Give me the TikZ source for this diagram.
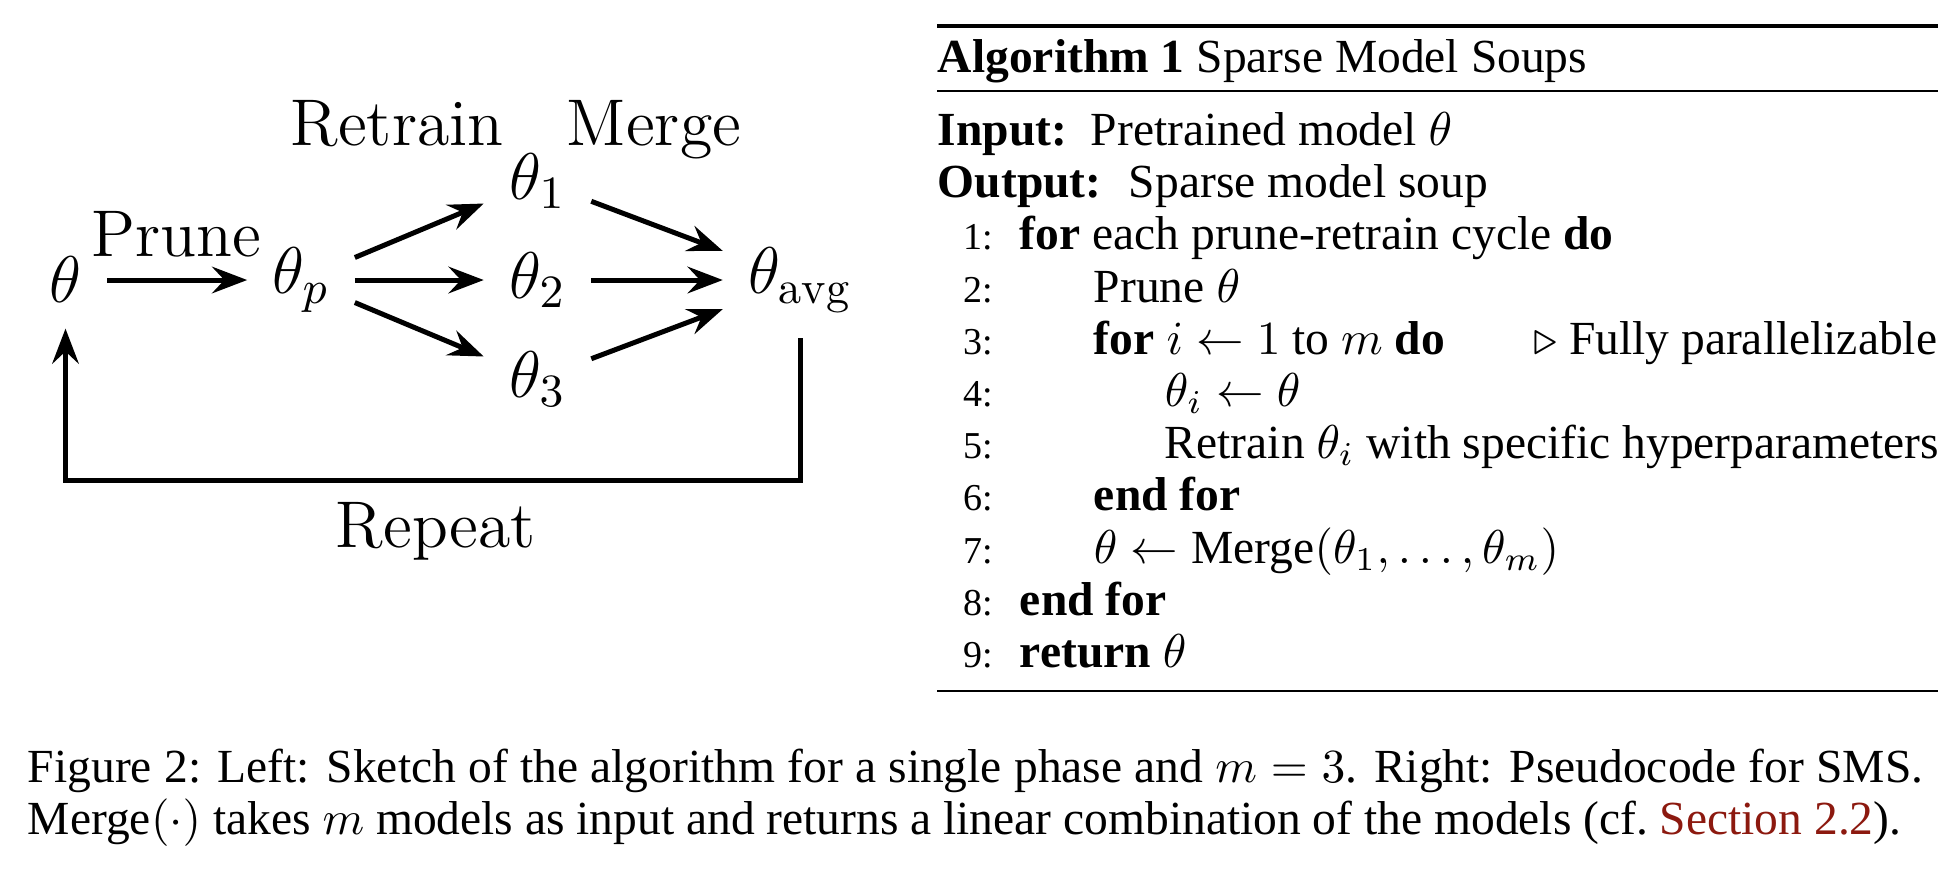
\RequirePackage{fix-cm}
\documentclass[tikz,border=0pt]{standalone}
\usepackage{fontspec}
\usetikzlibrary{arrows.meta}
\newfontfamily\algfont{Liberation Serif}
\definecolor{linkred}{RGB}{140,25,15}

\begin{document}
\begin{tikzpicture}[x=0.2105pt, y=-0.2105pt,
    var/.style={inner sep=5.4pt, outer sep=0pt, font=\fontsize{13.9}{16}\selectfont},
    lbl/.style={inner sep=0pt, anchor=base, font=\fontsize{13.9}{16}\selectfont},
    alg/.style={inner sep=0pt, anchor=base west, font=\algfont\fontsize{10}{11}\selectfont},
    lno/.style={inner sep=0pt, anchor=base east, font=\algfont\fontsize{8}{9.5}\selectfont},
    arr/.style={-{Stealth[length=7.4pt, width=5.6pt, inset=2.6pt]}, line width=1.05pt}]
  \useasboundingbox (0,0) rectangle (1948,872);

  % left: one phase of the method
  \node[var] (th)  at (65.5,280)  {$\theta$};
  \node[var] (thp) at (301,280)   {$\theta_p$};
  \node[var] (th1) at (537.5,181) {$\theta_1$};
  \node[var] (th2) at (537.5,280) {$\theta_2$};
  \node[var] (th3) at (537.5,379) {$\theta_3$};
  \node[var] (avg) at (800,280)   {$\theta_{\mathrm{avg}}$};
  \node[lbl] (prune) at (176,256) {Prune};
  \node[lbl] (retr)  at (397,145) {Retrain};
  \node[lbl] (merge) at (654,145) {Merge};
  \node[lbl] (rep)   at (436,547) {Repeat};
  \draw[arr] (th) -- (thp);
  \foreach \i in {1,2,3} {
    \draw[arr] (thp) -- (th\i);
    \draw[arr] (th\i) -- (avg);
  }
  \draw[arr] (avg.south) -- ++(0,142) -| (th.south);

  % right: pseudocode
  \draw[line width=0.8pt] (937,26) -- (1938,26);
  \node[alg] (title) at (937,72) {\textbf{Algorithm 1} Sparse Model Soups};
  \draw[line width=0.5pt] (937,91) -- (1938,91);
  \node[alg] (in)   at (937,145.5)  {\textbf{Input:}};
  \node[alg] (inx)  at (1090,145.5) {Pretrained model $\theta$};
  \node[alg] (out)  at (937,197.7)  {\textbf{Output:}};
  \node[alg] (outx) at (1128,197.7) {Sparse model soup};
  \foreach \n in {1,...,9}
    \node[lno] (n\n) at (994,{145.5+52.2*(\n+1)}) {\n:};
  \node[alg] (l1) at (1019,249.9) {\textbf{for} each prune-retrain cycle \textbf{do}};
  \node[alg] (l2) at (1093,302.1) {Prune $\theta$};
  \node[alg] (l3) at (1093,354.3) {\textbf{for} $i \leftarrow 1$ to $m$ \textbf{do}};
  \node[alg, anchor=base east] (c3) at (1938,354.3) {$\triangleright$ Fully parallelizable};
  \node[alg] (l4) at (1164,406.5) {$\theta_i \leftarrow \theta$};
  \node[alg] (l5) at (1164,458.7) {Retrain $\theta_i$ with specific hyperparameters};
  \node[alg] (l6) at (1093,510.9) {\textbf{end for}};
  \node[alg] (l7) at (1093,563.1) {$\theta \leftarrow \mbox{Merge}(\theta_1, \ldots, \theta_m)$};
  \node[alg] (l8) at (1019,615.3) {\textbf{end for}};
  \node[alg] (l9) at (1019,667.5) {\textbf{return} $\theta$};
  \draw[line width=0.5pt] (937,691) -- (1938,691);

  % caption
  \node[alg, text width=399pt, align=justify] (fig) at (27,782)
    {\spaceskip=0.25em plus 0.2em minus 0.12em
     Figure 2: Left: Sketch of the algorithm for a single phase and $m=3$. Right: Pseudocode for SMS.\linebreak
     Merge$(\cdot)$ takes $m$ models as input and returns a linear combination of the models (cf.~\textcolor{linkred}{Section 2.2}).};
\end{tikzpicture}
\end{document}
